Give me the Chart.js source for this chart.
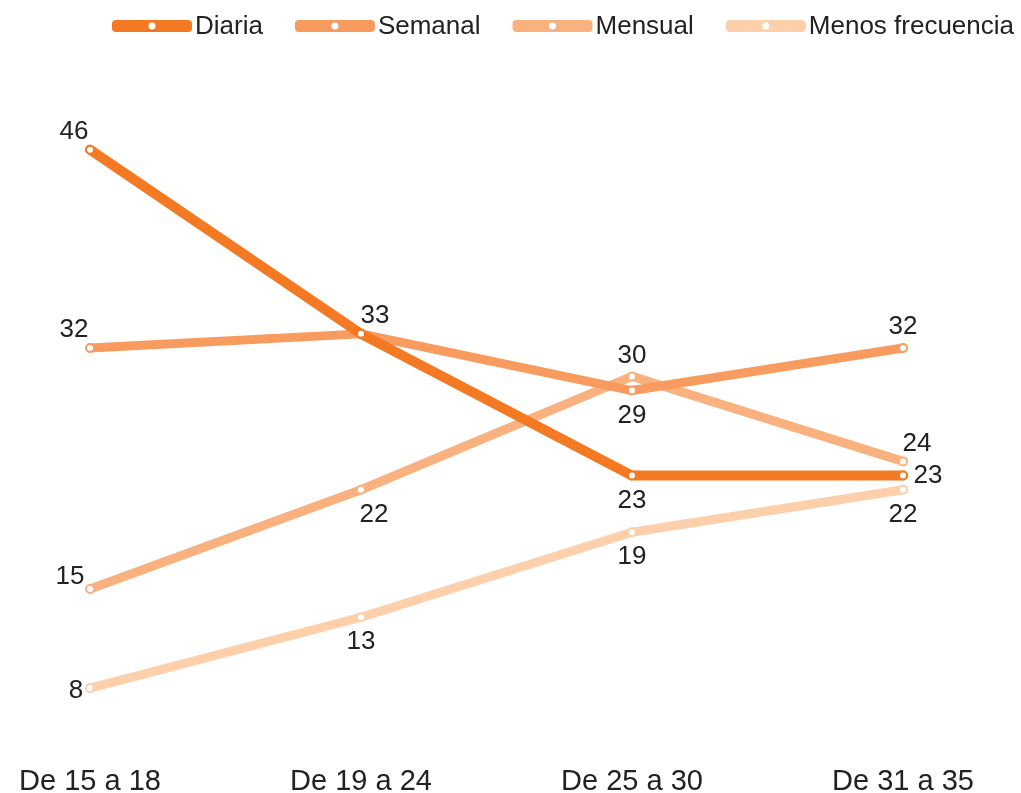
<!DOCTYPE html>
<html>
<head>
<meta charset="utf-8">
<script src="https://cdn.jsdelivr.net/npm/chart.js@4.4.0/dist/chart.umd.min.js"></script>
<style>
  html, body { margin: 0; padding: 0; background: #fff; }
  #wrap { width: 1021px; height: 793px; }
</style>
</head>
<body>
<div id="wrap"><canvas id="grafica"></canvas></div>
<script>
// Datos de la gráfica
var edades = ["De 15 a 18", "De 19 a 24", "De 25 a 30", "De 31 a 35"];
var diaria = [46, 33, 23, 23];
var semanal = [32, 33, 29, 32];
var mensual = [15, 22, 30, 24];
var menosFrecuencia = [8, 13, 19, 22];

// Donde va cada etiqueta respecto a su punto (null = sin etiqueta)
var posDiaria = ["aboveLeft", "aboveRight", "below", "right"];
var posSemanal = ["aboveLeft", null, "below", "above"];
var posMensual = ["leftUp", "belowRight", "above", "aboveRight"];
var posMenos = ["left", "below", "below", "below"];

var offsets = {
  above: [0, -21],
  aboveLeft: [-16, -18],
  aboveRight: [14, -18],
  below: [0, 25],
  belowRight: [13, 25],
  right: [25, 0],
  left: [-14, 3],
  leftUp: [-20, -12]
};

var fuente = '"Liberation Sans", Arial, sans-serif';

function serie(label, data, color, ancho, pos) {
  return {
    label: label,
    data: data,
    borderColor: color,
    backgroundColor: color,
    borderWidth: ancho,
    borderCapStyle: "round",
    borderJoinStyle: "round",
    pointRadius: 4,
    pointHoverRadius: 4,
    pointBorderWidth: 2,
    pointBackgroundColor: "#ffffff",
    pointBorderColor: color,
    tension: 0,
    posiciones: pos
  };
}

// Etiquetas de valores
var etiquetasPlugin = {
  id: "etiquetas",
  afterDatasetsDraw: function (chart) {
    var ctx = chart.ctx;
    ctx.save();
    ctx.font = "26px " + fuente;
    ctx.fillStyle = "#222222";
    ctx.textAlign = "center";
    ctx.textBaseline = "middle";
    chart.data.datasets.forEach(function (ds, i) {
      var meta = chart.getDatasetMeta(i);
      meta.data.forEach(function (pt, j) {
        var off = offsets[ds.posiciones[j]];
        if (!off) return;
        ctx.fillText(String(ds.data[j]), pt.x + off[0], pt.y + off[1]);
      });
    });
    ctx.restore();
  }
};

// Leyenda arriba con línea y punto blanco
var leyendaPlugin = {
  id: "leyenda",
  afterDraw: function (chart) {
    var ctx = chart.ctx;
    var x = 112, y = 26;
    ctx.save();
    ctx.font = "26px " + fuente;
    ctx.textBaseline = "middle";
    chart.data.datasets.forEach(function (ds) {
      ctx.fillStyle = ds.borderColor;
      ctx.beginPath();
      ctx.roundRect(x, y - 6, 80, 12, 4);
      ctx.fill();
      ctx.fillStyle = "#ffffff";
      ctx.beginPath();
      ctx.arc(x + 40, y, 3.5, 0, Math.PI * 2);
      ctx.fill();
      ctx.fillStyle = "#222222";
      ctx.textAlign = "left";
      ctx.fillText(ds.label, x + 83, y + 1);
      x += 83 + ctx.measureText(ds.label).width + 32;
    });
    ctx.restore();
  }
};

new Chart(document.getElementById("grafica"), {
  type: "line",
  data: {
    labels: edades,
    datasets: [
      serie("Diaria", diaria, "#f37a23", 10, posDiaria),
      serie("Semanal", semanal, "#f79b5f", 9, posSemanal),
      serie("Mensual", mensual, "#f9b17f", 9, posMensual),
      serie("Menos frecuencia", menosFrecuencia, "#fdcfaa", 9, posMenos)
    ]
  },
  options: {
    responsive: true,
    maintainAspectRatio: false,
    animation: false,
    events: [],
    layout: { padding: { top: 93, left: 90, right: 118, bottom: 0 } },
    plugins: { legend: { display: false }, tooltip: { enabled: false } },
    scales: {
      x: {
        offset: false,
        grid: { display: false, drawTicks: false },
        border: { display: false },
        ticks: { color: "#222222", padding: 34, maxRotation: 0, font: { family: fuente, size: 29 } },
        afterFit: function (scale) {
          scale.height = 62.4;
          scale.paddingLeft = 0;
          scale.paddingRight = 0;
        }
      },
      y: {
        display: false,
        min: 5,
        max: 50
      }
    }
  },
  plugins: [etiquetasPlugin, leyendaPlugin]
});
</script>
</body>
</html>
